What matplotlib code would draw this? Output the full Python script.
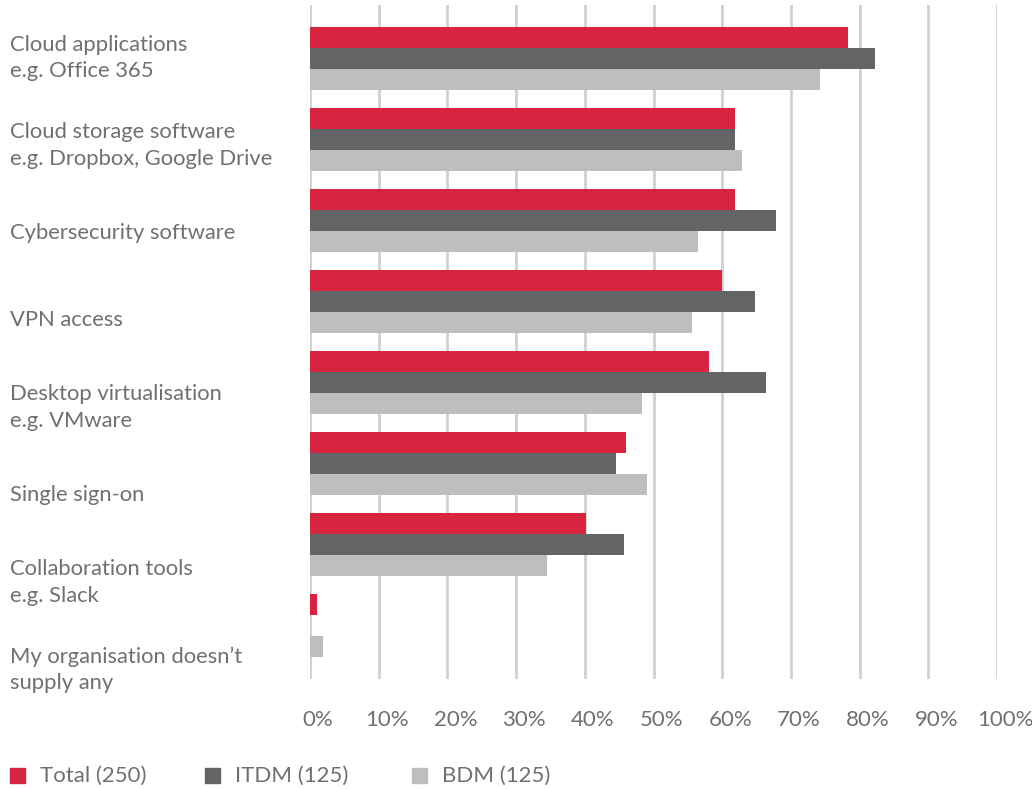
import numpy as np
import matplotlib.pyplot as plt
from matplotlib import transforms
from matplotlib.patches import Rectangle

# Kategorieën en percentages per groep
categorieen = [
    "Cloud applications\ne.g. Office 365",
    "Cloud storage software\ne.g. Dropbox, Google Drive",
    "Cybersecurity software",
    "VPN access",
    "Desktop virtualisation\ne.g. VMware",
    "Single sign-on",
    "Collaboration tools\ne.g. Slack",
    "My organisation doesn\u2019t\nsupply any",
]
totaal = [78.3, 61.9, 61.9, 60.0, 58.1, 46.0, 40.2, 1.0]
itdm = [82.2, 61.9, 67.8, 64.8, 66.4, 44.5, 45.7, 0.0]
bdm = [74.3, 62.9, 56.5, 55.6, 48.3, 49.1, 34.5, 1.9]
reeksen = ["Total (250)", "ITDM (125)", "BDM (125)"]
x_ticks = list(range(0, 101, 10))

kleuren = ["#D7243F", "#636466", "#BDBFBE"]
tekst_kleur = "#707070"

plt.rcParams["font.family"] = ["Lato", "DejaVu Sans"]

fig = plt.figure(figsize=(10.32, 7.89), dpi=100)
ax = fig.add_axes([310 / 1032, 1 - 679 / 789, 687 / 1032, 674 / 789])

y = np.arange(len(categorieen))
h = 0.259
for i, (waarden, kleur) in enumerate(zip([totaal, itdm, bdm], kleuren)):
    ax.barh(y + (i - 1) * h, waarden, height=h, color=kleur, zorder=2)

ax.set_xlim(0, 100)
ax.set_ylim(len(categorieen) - 1 + 0.66, -0.665)
ax.set_xticks(x_ticks)
ax.set_xticklabels([f"{t}%" for t in x_ticks])
ax.set_yticks([])
ax.grid(axis="x", color="#D0D0D0", linewidth=2, zorder=0)
for s in ax.spines.values():
    s.set_visible(False)
ax.tick_params(axis="x", length=0, pad=22, labelsize=16, labelcolor=tekst_kleur)
verschuif = transforms.ScaledTranslation(8 / 100, 0, fig.dpi_scale_trans)
for lbl in ax.get_xticklabels():
    lbl.set_transform(lbl.get_transform() + verschuif)

# Labels links, gelijkmatig verdeeld over de hoogte
trans = transforms.blended_transform_factory(fig.transFigure, ax.transData)
for i, tekst in enumerate(categorieen):
    ax.text(10 / 1032, i * 1.079 - 0.007, tekst, transform=trans, ha="left", va="center",
            fontsize=15.8, color=tekst_kleur, linespacing=1.4, clip_on=False)

# Legenda onderaan
legenda_x = [10, 205, 412]
for lx, kleur, naam in zip(legenda_x, kleuren, reeksen):
    fig.patches.append(Rectangle((lx / 1032, 1 - 783 / 789), 15 / 1032, 15 / 789,
                                 transform=fig.transFigure, color=kleur))
    fig.text((lx + 30) / 1032, 1 - 776 / 789, naam, ha="left", va="center",
             fontsize=16, color=tekst_kleur)

fig.savefig("out.png", dpi=100)
